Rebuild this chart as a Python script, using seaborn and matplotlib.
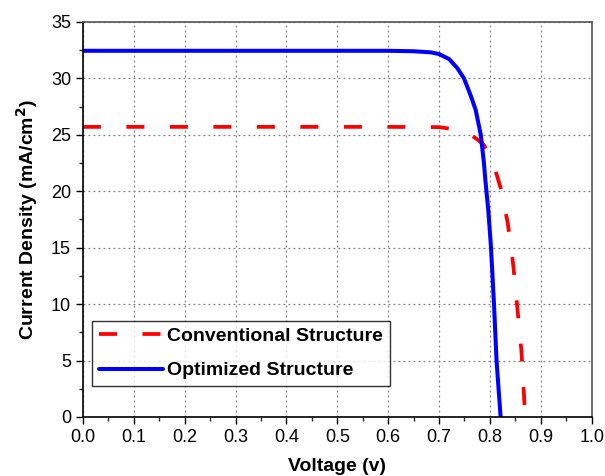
import matplotlib
matplotlib.use("Agg")
import matplotlib.pyplot as plt
import seaborn as sns
import numpy as np
from matplotlib.ticker import MultipleLocator

sns.set_style("white")
plt.rcParams['font.family'] = ['Liberation Sans', 'DejaVu Sans']
plt.rcParams['text.color'] = 'black'
plt.rcParams['axes.labelcolor'] = 'black'

# Data
conv_v = [0.0, 0.1, 0.2, 0.3, 0.4, 0.5, 0.6, 0.7, 0.72, 0.74, 0.762, 0.775, 0.788,
          0.8, 0.811, 0.821, 0.835, 0.846, 0.854, 0.862, 0.867, 0.869]
conv_j = [25.7, 25.7, 25.7, 25.7, 25.7, 25.7, 25.7, 25.68, 25.55, 25.35, 25.0, 24.6, 24.1,
          23.2, 21.8, 20.3, 17.2, 13.4, 9.6, 5.8, 1.9, 0.0]

opt_v = [0.0, 0.1, 0.2, 0.3, 0.4, 0.5, 0.6, 0.65, 0.684, 0.7, 0.72, 0.736, 0.749,
         0.762, 0.772, 0.782, 0.788, 0.791, 0.797, 0.802, 0.808, 0.813, 0.821]
opt_j = [32.44, 32.44, 32.44, 32.44, 32.44, 32.44, 32.44, 32.4, 32.3, 32.15, 31.7, 30.9, 30.0,
         28.5, 27.2, 25.0, 22.6, 21.0, 18.2, 15.1, 10.0, 5.0, 0.0]

labels = ["Conventional Structure", "Optimized Structure"]
x_ticks = [0.0, 0.1, 0.2, 0.3, 0.4, 0.5, 0.6, 0.7, 0.8, 0.9, 1.0]
y_ticks = [0, 5, 10, 15, 20, 25, 30, 35]

fig = plt.figure(figsize=(6.05, 4.76), dpi=100)
ax = fig.add_axes([0.137, 0.124, 0.841, 0.830])

sns.lineplot(x=conv_v, y=conv_j, ax=ax, color='#ff0000', lw=2.7, sort=False,
             linestyle=(0, (4.8, 6.8)), label=labels[0])
sns.lineplot(x=opt_v, y=opt_j, ax=ax, color='#0000ff', lw=2.9, sort=False,
             label=labels[1])

ax.set_xlim(0, 1.0)
ax.set_ylim(0, 35)
ax.set_xticks(x_ticks)
ax.set_xticklabels([f"{t:.1f}" for t in x_ticks])
ax.set_yticks(y_ticks)
ax.xaxis.set_minor_locator(MultipleLocator(0.05))
ax.yaxis.set_minor_locator(MultipleLocator(2.5))
ax.tick_params(axis='both', which='major', direction='out', length=5, width=1,
               labelsize=13, colors='black', bottom=True, left=True)
ax.tick_params(axis='both', which='minor', direction='out', length=3, width=1,
               bottom=True, left=True)
ax.grid(True, which='major', linestyle=(0, (1.5, 2.5)), color='#808080', lw=0.9)

for side in ['left', 'bottom']:
    ax.spines[side].set_color('black')
    ax.spines[side].set_linewidth(1.2)
for side in ['top', 'right']:
    ax.spines[side].set_color('#555555')
    ax.spines[side].set_linewidth(1.2)

ax.set_xlabel("Voltage (v)", fontsize=14, fontweight='bold', labelpad=9)
ax.set_ylabel("Current Density (mA/cm$^\\mathbf{2}$)", fontsize=14, fontweight='bold', labelpad=8)

leg = ax.legend(loc='lower left', bbox_to_anchor=(0.018, 0.078), frameon=True,
                fancybox=False, edgecolor='black', handlelength=3.3,
                prop={'weight': 'bold', 'size': 14}, borderpad=0.35,
                labelspacing=0.85, handletextpad=0.2, borderaxespad=0)
leg.get_frame().set_linewidth(1.0)

fig.savefig("out.png", dpi=100)
